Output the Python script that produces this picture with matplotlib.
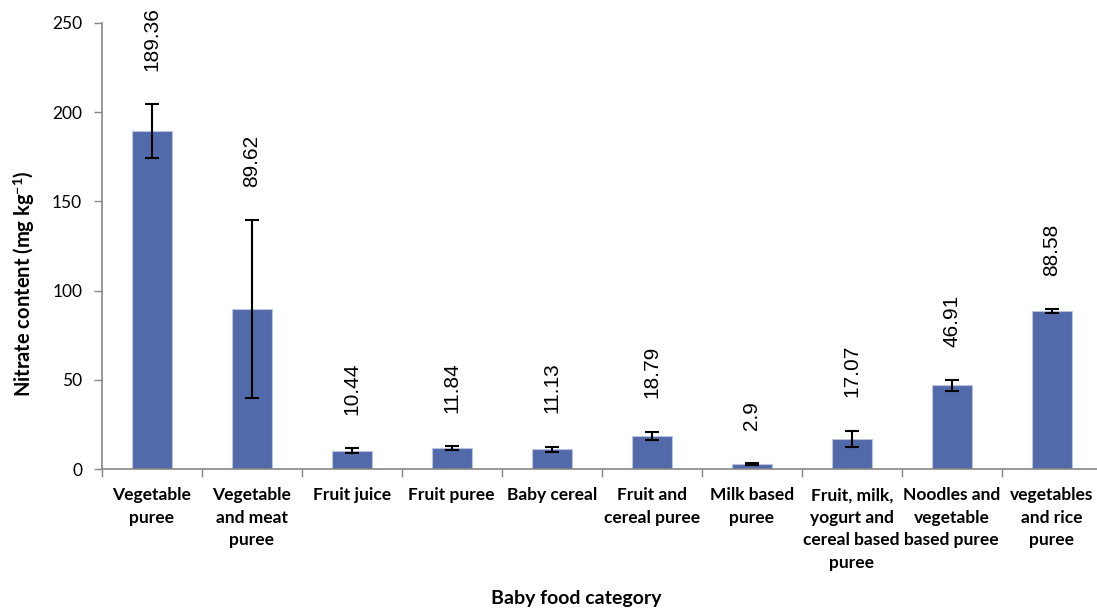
import matplotlib
matplotlib.use("Agg")
import matplotlib.pyplot as plt
import numpy as np

categories = ["Vegetable\npuree", "Vegetable\nand meat\npuree", "Fruit juice", "Fruit puree",
              "Baby cereal", "Fruit and\ncereal puree", "Milk based\npuree",
              "Fruit, milk,\nyogurt and\ncereal based\npuree", "Noodles and\nvegetable\nbased puree",
              "vegetables\nand rice\npuree"]
values = [189.36, 89.62, 10.44, 11.84, 11.13, 18.79, 2.9, 17.07, 46.91, 88.58]
errors = [14.9, 49.7, 1.4, 1.0, 1.6, 2.2, 0.6, 4.5, 2.9, 1.0]
yticks = [0, 50, 100, 150, 200, 250]

plt.rcParams["mathtext.fontset"] = "custom"
plt.rcParams["mathtext.rm"] = "Lato"
plt.rcParams["mathtext.bf"] = "Lato:bold"
plt.rcParams["mathtext.it"] = "Lato:italic"

fig = plt.figure(figsize=(10.97, 6.10), dpi=100)
ax = fig.add_axes([0.0927, 0.2307, 0.9116, 0.7321])

x = np.arange(len(categories))
ax.bar(x, values, width=0.4, color="#536AAA", edgecolor="#B9C4E0", linewidth=0.8, zorder=2)
ax.errorbar(x, values, yerr=errors, fmt="none", ecolor="black", elinewidth=1.5,
            capsize=5, capthick=1.5, zorder=3)

for xi, v, e in zip(x, values, errors):
    ax.annotate(f"{v:g}", xy=(xi, v + e), xytext=(0, 24), textcoords="offset points",
                rotation=90, ha="center", va="bottom", fontsize=15,
                family="Liberation Sans", annotation_clip=False)

ax.set_xlim(-0.5, 9.5)
ax.set_ylim(0, 250)
ax.set_yticks(yticks)
ax.set_yticklabels([str(t) for t in yticks], family="Lato", fontsize=12.5)
ax.set_xticks(x)
ax.set_xticklabels(categories, family="Lato", fontweight="bold", fontsize=12.5, linespacing=1.5)
ax.set_xticks(np.arange(-0.5, 10, 1), minor=True)
ax.tick_params(axis="x", which="major", length=0, pad=13)
ax.tick_params(axis="x", which="minor", length=6, color="#868686", width=1, direction="out")
ax.tick_params(axis="y", length=6, color="#868686", width=1, direction="out", pad=8)

for s in ["top", "right"]:
    ax.spines[s].set_visible(False)
for s in ["left", "bottom"]:
    ax.spines[s].set_color("#868686")
    ax.spines[s].set_linewidth(1.2)

fig.text(0.525, 0.005, "Baby food category", ha="center", va="bottom",
         family="Lato", fontweight="bold", fontsize=14)
fig.text(0.022, 0.535, "Nitrate content (mg kg$^{\\mathbf{-1}}$)", ha="center", va="center",
         rotation=90, family="Lato", fontweight="bold", fontsize=14.5)

fig.savefig("out.png", dpi=100)
